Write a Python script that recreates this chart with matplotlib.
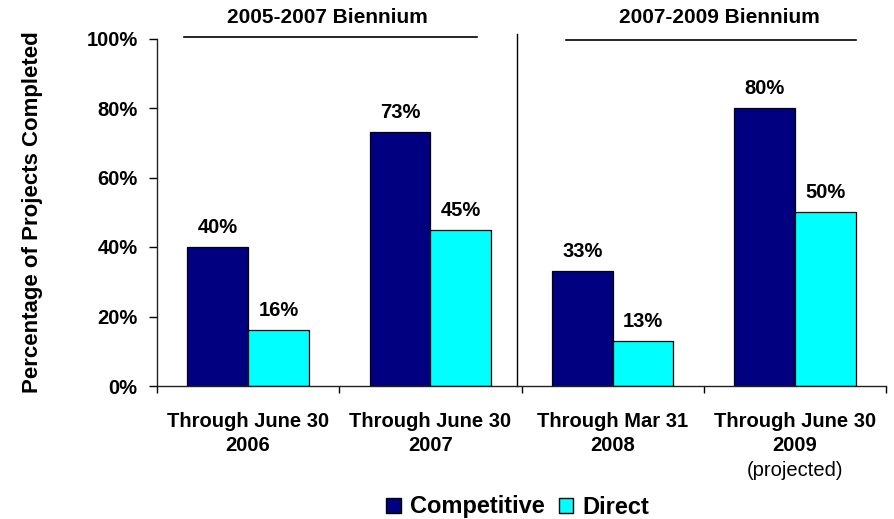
import numpy as np
import matplotlib
matplotlib.use("Agg")
import matplotlib.pyplot as plt
from matplotlib.patches import Patch

plt.rcParams['font.family'] = ['Liberation Sans', 'DejaVu Sans']

# data
categories = ["Through June 30\n2006", "Through June 30\n2007",
              "Through Mar 31\n2008", "Through June 30\n2009"]
competitive = [40, 73, 33, 80]
direct = [16, 45, 13, 50]
series_names = ["Competitive", "Direct"]
bienniums = ["2005-2007 Biennium", "2007-2009 Biennium"]
yticks = [0, 20, 40, 60, 80, 100]

navy = "#000080"
cyan = "#00FFFF"

fig = plt.figure(figsize=(8.95, 5.19), dpi=100)
ax = fig.add_axes([157 / 895, 1 - 386 / 519, (886 - 157) / 895, (386 - 38.5) / 519])

x = np.arange(len(categories))
w = 1 / 3
ax.bar(x - w / 2, competitive, w, color=navy, edgecolor="black", linewidth=0.9)
ax.bar(x + w / 2, direct, w, color=cyan, edgecolor="black", linewidth=0.9)

for xi, v in zip(x - w / 2, competitive):
    ax.annotate(f"{v}%", (xi, v), xytext=(0, 14), textcoords="offset points",
                ha="center", va="center", fontsize=14.5, fontweight="bold")
for xi, v in zip(x + w / 2, direct):
    ax.annotate(f"{v}%", (xi, v), xytext=(0, 14), textcoords="offset points",
                ha="center", va="center", fontsize=14.5, fontweight="bold")

ax.set_xlim(-0.5, len(categories) - 0.5)
ax.set_ylim(0, 100)
ax.set_yticks(yticks)
ax.set_yticklabels([f"{t}%" for t in yticks], fontsize=14.5, fontweight="bold")
ax.set_xticks(np.arange(len(categories) + 1) - 0.5)
ax.set_xticklabels([])
ax.tick_params(axis="y", direction="out", length=6, width=1, pad=8)
ax.tick_params(axis="x", direction="out", length=5, width=1)
for i, lab in enumerate(categories):
    ax.text(i, -0.075, lab, transform=ax.get_xaxis_transform(), ha="center", va="top",
            fontsize=14.5, fontweight="bold", linespacing=1.3)
ax.text(3, -0.215, "(projected)", transform=ax.get_xaxis_transform(), ha="center",
        va="top", fontsize=14.5)

for s in ["top", "right"]:
    ax.spines[s].set_visible(False)
for s in ["left", "bottom"]:
    ax.spines[s].set_color("#222222")
    ax.spines[s].set_linewidth(1)

ax.set_ylabel("Percentage of Projects Completed", fontsize=16, fontweight="bold")
ax.yaxis.set_label_coords(-0.157, 0.5)

# biennium headers and divider
trans = ax.get_xaxis_transform()
ax.plot([1.475, 1.475], [0, 1.013], color="black", lw=1, transform=trans, clip_on=False)
ax.plot([-0.352, 1.256], [1.004, 1.004], color="black", lw=1.2, transform=trans, clip_on=False)
ax.plot([1.744, 3.335], [0.997, 0.997], color="black", lw=1.2, transform=trans, clip_on=False)
ax.text(0.436, 1.059, bienniums[0], transform=trans, ha="center", va="center",
        fontsize=15, fontweight="bold")
ax.text(2.584, 1.059, bienniums[1], transform=trans, ha="center", va="center",
        fontsize=15, fontweight="bold")

handles = [Patch(facecolor=navy, edgecolor="black"), Patch(facecolor=cyan, edgecolor="black")]
fig.legend(handles, series_names, loc="center", bbox_to_anchor=(518 / 895, 1 - 507 / 519),
           ncol=2, frameon=False, prop={"size": 17, "weight": "bold"},
           handlelength=0.6, handleheight=0.6, handletextpad=0.4, columnspacing=0.6,
           borderpad=0, borderaxespad=0)

fig.savefig("out.png", dpi=100)
